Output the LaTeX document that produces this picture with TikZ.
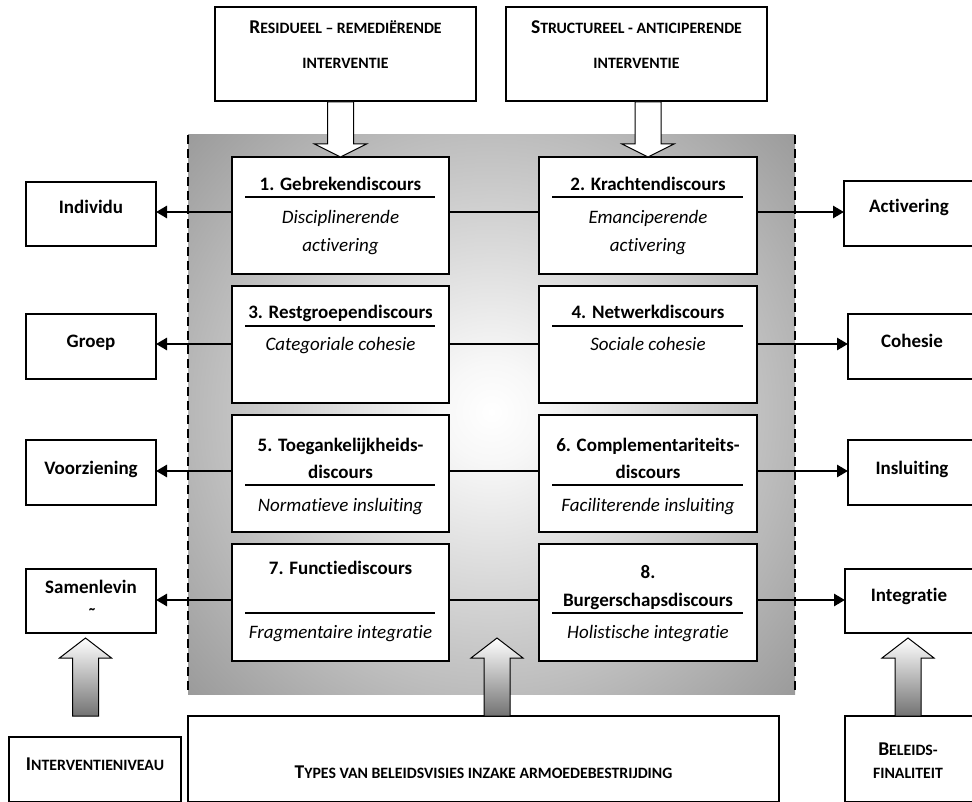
\documentclass[tikz,border=0pt]{standalone}
\usepackage{fontspec}
\setmainfont{Carlito}[Ligatures=NoCommon]
\usetikzlibrary{arrows.meta}
\definecolor{pgray}{gray}{0.5}
\definecolor{plight}{gray}{0.97}
\pgfdeclareradialshading{panelshade}{\pgfpoint{0bp}{0bp}}{color(0bp)=(white); color(4bp)=(plight); color(42bp)=(pgray); color(50bp)=(pgray)}
\newcommand{\scbig}[1]{{\fontsize{19.5}{23}\selectfont #1}}
\newcommand{\scsm}[1]{{\fontsize{15.8}{18}\selectfont #1}}
\begin{document}
\begin{tikzpicture}[x=1pt,y=-1pt,
  box/.style={draw=black, line width=1.2pt, fill=white, inner sep=0pt, outer sep=0pt, anchor=north west},
  ttl/.style={font=\bfseries\fontsize{19}{23}\selectfont, inner sep=0pt, anchor=base},
  sub/.style={font=\itshape\fontsize{19}{23}\selectfont, inner sep=0pt, anchor=base},
  hdr/.style={font=\bfseries, inner sep=0pt, anchor=base},
  rulel/.style={line width=1.6pt},
  conn/.style={line width=2.7pt},
  arr/.style={conn, -{Triangle[length=11pt,width=12pt]}},
  blkdown/.style={draw=black, line width=1pt, fill=white},
  blkup/.style={draw=black, line width=1pt, top color=white, bottom color=black!55},
  paneldash/.style={line width=2pt, dash pattern=on 9pt off 5pt}
]
\useasboundingbox (0,0) rectangle (972,802);

% central panel with radial shading
\begin{scope}
  \clip (188,135) rectangle (795,694);
  \shade[shading=panelshade] (181.5,102) rectangle (801.5,722);
\end{scope}
\draw[paneldash] (188,135) -- (188,694);
\draw[paneldash] (795,135) -- (795,694);

% top boxes
\node[box, minimum width=261pt, minimum height=94pt] (rtop) at (215,7) {};
\node[box, minimum width=261pt, minimum height=94pt] (stop) at (506,7) {};
\node[hdr] (rtop1) at (345.5,34) {\scbig{R}\scsm{ESIDUEEL – REMEDIËRENDE}};
\node[hdr] (rtop2) at (345.5,69) {\scsm{INTERVENTIE}};
\node[hdr] (stop1) at (636.5,34) {\scbig{S}\scsm{TRUCTUREEL - ANTICIPERENDE}};
\node[hdr] (stop2) at (636.5,69) {\scsm{INTERVENTIE}};

% discourse boxes
\node[box, minimum width=217pt, minimum height=117pt] (b1) at (232,157) {};
\node[box, minimum width=218pt, minimum height=117pt] (b2) at (539,157) {};
\node[box, minimum width=217pt, minimum height=117pt] (b3) at (232,286) {};
\node[box, minimum width=218pt, minimum height=117pt] (b4) at (539,286) {};
\node[box, minimum width=217pt, minimum height=117pt] (b5) at (232,415) {};
\node[box, minimum width=218pt, minimum height=117pt] (b6) at (539,415) {};
\node[box, minimum width=217pt, minimum height=117pt] (b7) at (232,544) {};
\node[box, minimum width=218pt, minimum height=117pt] (b8) at (539,544) {};

% block arrows down
\draw[blkdown] (b1.north) -- ++(-26,-13) -- ++(13,0) -- ++(0,-42) -- ++(26,0) -- ++(0,42) -- ++(13,0) -- cycle;
\draw[blkdown] (b2.north) -- ++(-26,-13) -- ++(13,0) -- ++(0,-42) -- ++(26,0) -- ++(0,42) -- ++(13,0) -- cycle;

% texts in discourse boxes
\node[ttl] (t1) at (340.5,191) {1. Gebrekendiscours};
\node[sub] (s1a) at (340.5,224) {Disciplinerende};
\node[sub] (s1b) at (340.5,252) {activering};
\node[ttl] (t2) at (648,191) {2. Krachtendiscours};
\node[sub] (s2a) at (648,224) {Emanciperende};
\node[sub] (s2b) at (648,252) {activering};
\node[ttl] (t3) at (340.5,319) {3. Restgroependiscours};
\node[sub] (s3) at (340.5,351) {Categoriale cohesie};
\node[ttl] (t4) at (648,319) {4. Netwerkdiscours};
\node[sub] (s4) at (648,351) {Sociale cohesie};
\node[ttl] (t5a) at (340.5,451) {5. Toegankelijkheids-};
\node[ttl] (t5b) at (340.5,478) {discours};
\node[sub] (s5) at (340.5,511) {Normatieve insluiting};
\node[ttl] (t6a) at (648,451) {6. Complementariteits-};
\node[ttl] (t6b) at (648,478) {discours};
\node[sub] (s6) at (648,511) {Faciliterende insluiting};
\node[ttl] (t7) at (340.5,574) {7. Functiediscours};
\node[sub] (s7) at (340.5,638) {Fragmentaire integratie};
\node[ttl] (t8a) at (648,578) {8.};
\node[ttl] (t8b) at (648,606) {Burgerschapsdiscours};
\node[sub] (s8) at (648,638) {Holistische integratie};

% rules under titles
\draw[rulel] (245,197) -- (435,197);
\draw[rulel] (552,197) -- (743,197);
\draw[rulel] (245,326) -- (435,326);
\draw[rulel] (552,326) -- (743,326);
\draw[rulel] (245,485) -- (435,485);
\draw[rulel] (552,485) -- (743,485);
\draw[rulel] (245,613) -- (435,613);
\draw[rulel] (552,613) -- (743,613);

% side boxes left
\node[box, minimum width=130pt, minimum height=64pt] (ind) at (26,182) {};
\node[box, minimum width=130pt, minimum height=65pt] (grp) at (26,314) {};
\node[box, minimum width=130pt, minimum height=65pt] (vrz) at (26,440) {};
\node[box, minimum width=130pt, minimum height=64pt] (sam) at (26,569) {};
\node[ttl] (indt) at (91,214) {Individu};
\node[ttl] (grpt) at (91,348) {Groep};
\node[ttl] (vrzt) at (91,474) {Voorziening};
\node[ttl] (samt) at (91,593) {Samenlevin};
\node[ttl] (samt2) at (92,621) {˜};

% side boxes right
\node[box, minimum width=131pt, minimum height=65pt] (act) at (844,181) {};
\node[box, minimum width=127pt, minimum height=65pt] (coh) at (848,314) {};
\node[box, minimum width=127pt, minimum height=65pt] (ins) at (848,440) {};
\node[box, minimum width=130pt, minimum height=64pt] (integ) at (845,569) {};
\node[ttl] (actt) at (909,213) {Activering};
\node[ttl] (coht) at (912,348) {Cohesie};
\node[ttl] (inst) at (912,474) {Insluiting};
\node[ttl] (integt) at (909,601) {Integratie};

% connectors
\coordinate (l1) at ([yshift=3.5pt]b1.west);
\coordinate (m1) at ([yshift=3.5pt]b1.east);
\coordinate (n1) at ([yshift=3.5pt]b2.west);
\coordinate (r1) at ([yshift=3.5pt]b2.east);
\draw[arr] (l1) -- (l1 -| ind.east);
\draw[conn] (m1) -- (n1);
\draw[arr] (r1) -- (r1 -| act.west);

\coordinate (l2) at ([yshift=0.5pt]b3.west);
\coordinate (m2) at ([yshift=0.5pt]b3.east);
\coordinate (n2) at ([yshift=0.5pt]b4.west);
\coordinate (r2) at ([yshift=0.5pt]b4.east);
\draw[arr] (l2) -- (l2 -| grp.east);
\draw[conn] (m2) -- (n2);
\draw[arr] (r2) -- (r2 -| coh.west);

\coordinate (l3) at ([yshift=2.5pt]b5.west);
\coordinate (m3) at ([yshift=2.5pt]b5.east);
\coordinate (n3) at ([yshift=2.5pt]b6.west);
\coordinate (r3) at ([yshift=2.5pt]b6.east);
\draw[arr] (l3) -- (l3 -| vrz.east);
\draw[conn] (m3) -- (n3);
\draw[arr] (r3) -- (r3 -| ins.west);

\coordinate (l4) at ([yshift=2.5pt]b7.west);
\coordinate (m4) at ([yshift=2.5pt]b7.east);
\coordinate (n4) at ([yshift=2.5pt]b8.west);
\coordinate (r4) at ([yshift=2.5pt]b8.east);
\draw[arr] (l4) -- (l4 -| sam.east);
\draw[conn] (m4) -- (n4);
\draw[arr] (r4) -- (r4 -| integ.west);

% bottom boxes
\node[box, minimum width=172pt, minimum height=65pt] (intv) at (9,737) {};
\node[box, minimum width=591pt, minimum height=86pt] (types) at (188,716) {};
\node[box, minimum width=129pt, minimum height=86pt] (bel) at (845,716) {};
\node[hdr] (intvt) at (95,770.5) {\scbig{I}\scsm{NTERVENTIENIVEAU}};
\node[hdr] (typest) at (483.5,778.5) {\scbig{T}\scsm{YPES VAN BELEIDSVISIES INZAKE ARMOEDEBESTRIJDING}};
\node[hdr] (belt1) at (908,755.5) {\scbig{B}\scsm{ELEIDS-}};
\node[hdr] (belt2) at (908,778.5) {\scsm{FINALITEIT}};

% block arrows up
\coordinate (upL) at ([xshift=-5.5pt,yshift=-5pt]sam.south);
\coordinate (upM) at ([xshift=13.5pt,yshift=78pt]types.north);
\coordinate (upR) at ([xshift=-2pt,yshift=-5pt]integ.south);
\draw[blkup] (upL) -- ++(-26,20) -- ++(13,0) -- ++(0,58) -- ++(26,0) -- ++(0,-58) -- ++(13,0) -- cycle;
\draw[blkup] (upM) -- ++(-26,20) -- ++(13,0) -- ++(0,58) -- ++(26,0) -- ++(0,-58) -- ++(13,0) -- cycle;
\draw[blkup] (upR) -- ++(-26,20) -- ++(13,0) -- ++(0,58) -- ++(26,0) -- ++(0,-58) -- ++(13,0) -- cycle;
\end{tikzpicture}
\end{document}
